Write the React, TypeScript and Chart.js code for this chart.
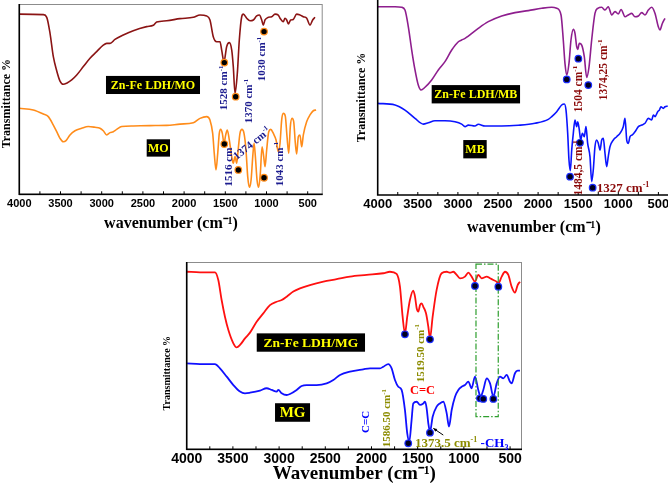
import React, { useEffect, useRef } from 'react';
import { Chart, registerables } from 'chart.js';

Chart.register(...registerables);

// ---------- axis ticks ----------
const X_TICKS = [4000, 3500, 3000, 2500, 2000, 1500, 1000, 500];
const X_TICK_LABELS = ['4000', '3500', '3000', '2500', '2000', '1500', '1000', '500'];

// ---------- Panel 1 : Zn-Fe LDH/MO and MO ----------
const ldhMoX = [4000, 3709, 3667, 3627, 3587, 3546, 3506, 3466, 3425, 3364, 3303, 3223, 3142, 3061, 2981, 2939, 2899, 2839, 2738, 2617, 2454, 2374, 2333, 2211, 2050, 1888, 1807, 1726, 1686, 1646, 1605, 1564, 1544, 1516, 1483, 1451, 1422, 1403, 1382, 1354, 1330, 1301, 1281, 1240, 1200, 1160, 1119, 1087, 1058, 1039, 1018, 978, 937, 897, 857, 836, 796, 776, 755, 735, 707, 675, 634, 594, 553, 512, 472, 440, 411];
const ldhMoY = [94.7, 94.4, 93.0, 84.6, 72.3, 64.9, 59.5, 57.8, 58.4, 60.1, 62.7, 67.1, 71.5, 75.0, 78.4, 79.3, 79.3, 81.4, 83.7, 86.0, 88.1, 88.8, 90.5, 91.2, 92.3, 93.0, 94.2, 93.7, 91.6, 82.8, 80.2, 80.2, 75.8, 69.7, 77.7, 79.7, 75.8, 67.1, 53.0, 63.6, 81.1, 93.3, 94.7, 92.5, 91.2, 91.6, 93.7, 94.2, 91.6, 88.9, 91.6, 93.0, 93.3, 94.7, 94.2, 92.5, 90.7, 92.5, 91.6, 89.5, 91.6, 91.9, 94.7, 94.2, 93.3, 92.5, 88.9, 91.6, 93.0];
const moX = [4000, 3830, 3709, 3648, 3587, 3546, 3506, 3466, 3433, 3385, 3324, 3243, 3163, 3081, 3021, 2981, 2939, 2899, 2859, 2818, 2757, 2617, 2414, 2211, 2050, 1888, 1807, 1726, 1686, 1653, 1634, 1613, 1592, 1573, 1556, 1536, 1516, 1495, 1476, 1451, 1422, 1403, 1382, 1362, 1342, 1322, 1298, 1273, 1249, 1228, 1208, 1187, 1167, 1151, 1135, 1115, 1095, 1075, 1054, 1034, 1018, 998, 973, 949, 917, 884, 857, 836, 816, 796, 772, 751, 730, 711, 690, 670, 650, 634, 614, 594, 573, 553, 512, 472, 432, 398];
const moY = [45.2, 44.3, 42.2, 40.8, 36.4, 32.9, 29.4, 27.6, 28.2, 31.2, 33.4, 34.7, 35.6, 35.2, 34.7, 33.4, 31.2, 32.4, 32.9, 34.1, 35.6, 35.9, 36.1, 36.2, 36.9, 37.6, 39.9, 40.8, 39.0, 32.0, 21.5, 12.8, 21.5, 32.0, 34.1, 32.0, 26.8, 31.2, 33.8, 28.5, 19.8, 16.3, 19.8, 16.3, 24.2, 32.0, 34.1, 32.0, 23.3, 9.3, 3.7, 7.6, 19.8, 26.8, 19.8, 7.6, 3.7, 11.0, 25.0, 19.8, 14.5, 23.3, 32.9, 34.1, 32.0, 28.5, 22.4, 26.8, 39.0, 42.5, 41.1, 30.3, 21.5, 35.6, 39.9, 38.2, 26.8, 21.2, 30.3, 31.2, 25.0, 31.2, 38.2, 41.7, 43.9, 44.3];

// ---------- Panel 2 : Zn-Fe LDH/MB and MB ----------
const ldhMbX = [4000, 3784, 3701, 3660, 3618, 3576, 3535, 3494, 3460, 3410, 3327, 3244, 3161, 3077, 2994, 2953, 2911, 2870, 2746, 2621, 2454, 2288, 2122, 1955, 1830, 1768, 1714, 1686, 1665, 1643, 1615, 1590, 1561, 1540, 1519, 1506, 1486, 1456, 1424, 1394, 1365, 1332, 1291, 1256, 1207, 1166, 1125, 1082, 1041, 1000, 966, 916, 875, 833, 792, 750, 708, 667, 626, 584, 542, 501, 480, 451, 418];
const ldhMbY = [95.6, 95.6, 95.3, 93.9, 85.4, 73.6, 63.5, 55.8, 53.3, 54.7, 58.4, 63.5, 67.7, 73.6, 77.8, 78.7, 79.5, 80.7, 84.6, 88.0, 90.9, 92.6, 93.6, 94.8, 95.3, 94.8, 91.4, 78.7, 66.8, 60.9, 66.8, 78.7, 84.1, 82.1, 75.3, 73.9, 77.0, 76.1, 70.2, 59.7, 65.1, 78.7, 92.2, 94.8, 95.3, 93.9, 95.6, 91.4, 93.1, 91.9, 94.2, 90.5, 91.4, 92.2, 90.5, 90.9, 92.6, 91.4, 93.9, 95.3, 92.2, 85.4, 83.8, 87.1, 89.7];
const mbX = [4000, 3784, 3660, 3535, 3431, 3369, 3286, 3161, 3036, 2953, 2911, 2870, 2787, 2746, 2662, 2454, 2247, 2039, 1873, 1830, 1768, 1706, 1673, 1652, 1631, 1615, 1598, 1581, 1561, 1540, 1519, 1506, 1486, 1469, 1448, 1424, 1403, 1382, 1353, 1332, 1312, 1291, 1269, 1249, 1228, 1207, 1187, 1166, 1145, 1125, 1104, 1062, 1020, 979, 938, 916, 895, 875, 854, 825, 792, 750, 708, 667, 626, 584, 563, 542, 509, 488, 468, 439, 418, 384];
const mbY = [46.5, 45.7, 43.1, 38.9, 36.0, 36.7, 37.7, 37.7, 37.2, 36.0, 34.7, 35.5, 35.0, 35.9, 35.0, 35.0, 35.4, 36.4, 38.4, 39.8, 42.3, 45.7, 46.2, 43.1, 31.3, 17.8, 12.4, 22.8, 31.3, 38.1, 34.7, 37.2, 33.0, 27.9, 31.3, 29.6, 34.7, 26.2, 19.5, 6.8, 12.7, 24.5, 27.9, 26.2, 22.8, 27.9, 28.8, 21.2, 14.4, 19.5, 24.5, 27.9, 29.6, 31.3, 34.7, 38.9, 27.9, 26.2, 29.6, 30.5, 32.1, 34.7, 35.5, 36.4, 38.9, 38.1, 40.6, 39.8, 42.3, 43.1, 44.8, 44.0, 44.8, 45.2];

// ---------- Panel 3 : Zn-Fe LDH/MG and MG ----------
const ldhMgX = [4000, 3856, 3694, 3658, 3622, 3586, 3549, 3495, 3459, 3423, 3369, 3315, 3243, 3171, 3099, 3026, 2972, 2918, 2846, 2774, 2666, 2521, 2377, 2233, 2052, 1872, 1800, 1728, 1692, 1663, 1638, 1613, 1584, 1548, 1529, 1511, 1493, 1475, 1457, 1439, 1410, 1385, 1367, 1338, 1295, 1241, 1186, 1150, 1114, 1078, 1042, 988, 952, 916, 880, 844, 808, 753, 717, 681, 645, 627, 591, 555, 519, 483, 447, 418, 393];
const ldhMgY = [94.8, 94.5, 94.5, 90.4, 79.7, 70.8, 63.7, 56.6, 54.4, 55.7, 59.2, 62.3, 68.1, 72.6, 77.0, 78.8, 79.7, 81.5, 84.2, 85.9, 87.7, 89.5, 90.8, 92.2, 93.1, 94.0, 94.8, 93.6, 86.8, 70.8, 61.9, 70.8, 79.7, 84.7, 81.5, 75.3, 73.5, 77.0, 77.9, 76.1, 72.6, 65.5, 59.2, 70.8, 85.1, 94.0, 94.8, 94.3, 94.8, 93.1, 91.3, 92.2, 94.3, 92.2, 89.5, 93.1, 91.3, 92.2, 91.3, 90.4, 89.5, 88.6, 92.2, 94.8, 93.1, 86.8, 83.6, 87.7, 89.5];
const mgX = [4000, 3856, 3694, 3640, 3567, 3495, 3423, 3369, 3315, 3207, 3135, 3080, 3026, 3008, 2972, 2918, 2882, 2810, 2756, 2702, 2594, 2485, 2413, 2341, 2233, 2089, 2016, 1908, 1872, 1818, 1782, 1746, 1710, 1674, 1638, 1613, 1591, 1566, 1548, 1511, 1475, 1439, 1421, 1403, 1385, 1367, 1338, 1295, 1259, 1222, 1186, 1161, 1132, 1096, 1060, 1024, 988, 952, 916, 880, 844, 819, 790, 753, 717, 681, 645, 609, 573, 537, 501, 483, 447, 418, 393];
const mgY = [45.9, 45.5, 45.5, 43.2, 38.8, 34.3, 30.8, 29.9, 30.2, 31.3, 32.6, 31.7, 30.8, 31.7, 29.9, 29.0, 29.5, 31.7, 33.8, 34.3, 34.3, 35.2, 37.0, 39.7, 41.5, 42.7, 43.2, 43.2, 44.1, 45.5, 43.2, 37.0, 33.4, 31.7, 21.0, 8.5, 4.1, 15.6, 24.5, 25.4, 23.7, 24.5, 25.4, 21.9, 13.9, 9.4, 17.4, 22.8, 24.5, 25.4, 19.2, 12.1, 21.0, 28.1, 31.7, 33.4, 34.3, 36.1, 32.6, 38.8, 31.7, 28.1, 31.7, 37.9, 35.2, 28.1, 35.2, 38.8, 37.9, 39.7, 36.1, 35.2, 40.6, 42.0, 42.0];

// ---------- annotations (data coordinates: wavenumber, transmittance) ----------
const P1_DOTS = [[1512, 69.2], [1374, 51.3], [1030, 85.5], [1512, 26.4], [1342, 12.8], [1030, 8.7]];
const P2_DOTS = [[1643, 58.7], [1498, 69.2], [1374, 55.8], [1602, 9.3], [1478, 26.5], [1320, 3.7]];
const P3_DOTS = [[1638, 61.4], [1367, 58.7], [880, 87.2], [627, 86.8], [1602, 3.2], [1367, 8.9], [826, 27.2], [790, 26.9], [681, 26.9]];

const P1_BOXES = [
  { x1: 2948, x2: 1807, y1: 62.2, y2: 52.7, text: 'Zn-Fe LDH/MO', size: 12 },
  { x1: 2454, x2: 2171, y1: 28.9, y2: 19.8, text: 'MO', size: 12 },
];
const P2_BOXES = [
  { x1: 3327, x2: 2225, y1: 55.8, y2: 46.5, text: 'Zn-Fe LDH/MB', size: 12 },
  { x1: 2933, x2: 2641, y1: 27.9, y2: 18.6, text: 'MB', size: 12 },
];
const P3_BOXES = [
  { x1: 3242, x2: 2070, y1: 61.9, y2: 52.1, text: 'Zn-Fe LDH/MG', size: 13.5 },
  { x1: 3044, x2: 2665, y1: 24.6, y2: 14.7, text: 'MG', size: 15 },
];

const NAVY = '#1c1c8f';
const DARKRED = '#8b0a0a';
const OLIVE = '#8c8c00';

const P1_LABELS = [
  { x: 1522, y: 55.9, segs: [{ t: '1528 cm' }, { t: '-1', s: 'sup' }], size: 11, color: NAVY, rot: -90 },
  { x: 1221, y: 49.0, segs: [{ t: '1370 cm' }, { t: '-1', s: 'sup' }], size: 11, color: NAVY, rot: -90 },
  { x: 1058, y: 71.1, segs: [{ t: '1030 cm' }, { t: '-1', s: 'sup' }], size: 11, color: NAVY, rot: -90 },
  { x: 1464, y: 14.3, segs: [{ t: '1516 cm' }], size: 11, color: NAVY, rot: -90 },
  { x: 1180, y: 26.8, segs: [{ t: '1374 cm' }, { t: '-1', s: 'sup' }], size: 11, color: NAVY, rot: -39 },
  { x: 848, y: 15.9, segs: [{ t: '1043 cm' }, { t: '-1', s: 'sup' }], size: 11, color: NAVY, rot: -90 },
];
const P2_LABELS = [
  { x: 1499, y: 53.8, segs: [{ t: '1504 cm' }, { t: '-1', s: 'sup' }], size: 11.5, color: DARKRED, rot: -90 },
  { x: 1187, y: 63.5, segs: [{ t: '1374,25 cm' }, { t: '-1', s: 'sup' }], size: 11.5, color: DARKRED, rot: -90 },
  { x: 1499, y: 13.7, segs: [{ t: '1484,5 cm' }, { t: '-1', s: 'sup' }], size: 11.5, color: DARKRED, rot: -90 },
  { x: 1268, y: 3.7, segs: [{ t: '1327 cm' }, { t: '-1', s: 'sup' }], size: 13, color: DARKRED, rot: 0, align: 'left' },
];
const P3_LABELS = [
  { x: 1475, y: 51.3, segs: [{ t: '1519.50 cm' }, { t: '-1', s: 'sup' }], size: 11, color: OLIVE, rot: -90 },
  { x: 1448, y: 31.7, segs: [{ t: 'C=C' }], size: 12.5, color: '#ff0000', rot: 0 },
  { x: 1835, y: 16.6, segs: [{ t: '1586.50 cm' }, { t: '-1', s: 'sup' }], size: 11, color: OLIVE, rot: -90 },
  { x: 2070, y: 14.6, segs: [{ t: 'C=C' }], size: 11, color: '#0000ff', rot: -90 },
  { x: 1529, y: 3.5, segs: [{ t: '1373.5 cm' }, { t: '-1', s: 'sup' }, { t: ' -CH', c: '#0000ff' }, { t: '3', s: 'sub', c: '#0000ff' }], size: 13, color: OLIVE, rot: 0, align: 'left' },
];
const P3_FRAME = { x1: 869, x2: 628, y1: 98.9, y2: 17.4 };
const P3_ARROW = { x1: 1223, y1: 7.6, x2: 1331, y2: 11.2 };

const SERIF = '"Liberation Serif", "Times New Roman", serif';
const SANS = '"Liberation Sans", Arial, sans-serif';

function richText(ctx: any, segs: any[], x: number, y: number, size: number, color: string, rotDeg: number, align: string) {
  ctx.save();
  ctx.translate(x, y);
  if (rotDeg) ctx.rotate((rotDeg * Math.PI) / 180);
  const fontOf = (s: any) => `bold ${s.s ? size * 0.62 : size}px ${SERIF}`;
  let w = 0;
  for (const s of segs) {
    ctx.font = fontOf(s);
    w += ctx.measureText(s.t).width;
  }
  let cx = align === 'left' ? 0 : -w / 2;
  ctx.textBaseline = 'alphabetic';
  ctx.textAlign = 'left';
  const base = size * 0.33;
  for (const s of segs) {
    ctx.font = fontOf(s);
    ctx.fillStyle = s.c || color;
    const dy = s.s === 'sup' ? -size * 0.4 : s.s === 'sub' ? size * 0.22 : 0;
    ctx.fillText(s.t, cx, base + dy);
    cx += ctx.measureText(s.t).width;
  }
  ctx.restore();
}

function makeDecor(cfg: any) {
  return {
    id: 'decor',
    afterDatasetsDraw(chart: any) {
      const { ctx, chartArea: a } = chart;
      const sx = chart.scales.x;
      const sy = chart.scales.y;
      const X = (v: number) => sx.getPixelForValue(v);
      const Y = (v: number) => sy.getPixelForValue(v);
      ctx.save();
      // frame
      if (cfg.fullBox) {
        ctx.strokeStyle = '#8c8c8c';
        ctx.lineWidth = 1;
        ctx.strokeRect(a.left, a.top + 0.5, a.right - a.left - 0.5, a.bottom - a.top);
      }
      ctx.strokeStyle = '#000';
      ctx.lineWidth = 1.6;
      ctx.beginPath();
      ctx.moveTo(a.left, a.top);
      ctx.lineTo(a.left, a.bottom);
      ctx.lineTo(a.right, a.bottom);
      ctx.stroke();
      // minor ticks every 250 cm-1, inside
      ctx.lineWidth = 1;
      for (let v = 3750; v >= cfg.xMin; v -= 250) {
        const p = X(v);
        if (p > a.left + 1 && p < a.right - 1) {
          ctx.beginPath();
          ctx.moveTo(p, a.bottom);
          ctx.lineTo(p, a.bottom - 3);
          ctx.stroke();
        }
      }
      // label boxes
      for (const b of cfg.boxes) {
        const x1 = X(b.x1), x2 = X(b.x2), y1 = Y(b.y1), y2 = Y(b.y2);
        ctx.fillStyle = '#000';
        ctx.fillRect(x1, y1, x2 - x1, y2 - y1);
        ctx.fillStyle = '#ffff00';
        ctx.font = `bold ${b.size}px ${SERIF}`;
        ctx.textAlign = 'center';
        ctx.textBaseline = 'middle';
        ctx.fillText(b.text, (x1 + x2) / 2, (y1 + y2) / 2 + 1);
      }
      if (cfg.extra) cfg.extra(ctx, X, Y);
      // dots
      for (const d of cfg.dots) {
        ctx.beginPath();
        ctx.arc(X(d[0]), Y(d[1]), 3.3, 0, Math.PI * 2);
        ctx.fillStyle = cfg.dotFill;
        ctx.fill();
        ctx.lineWidth = 1.2;
        ctx.strokeStyle = cfg.dotStroke;
        ctx.stroke();
      }
      // labels
      for (const l of cfg.labels) {
        richText(ctx, l.segs, X(l.x), Y(l.y), l.size, l.color, l.rot || 0, l.align || 'center');
      }
      ctx.restore();
    },
  };
}

const P1 = {
  left: 0, top: 0, width: 335, height: 240,
  pad: { left: 0, top: 4, right: 12.3, bottom: 0 },
  yAxisW: 19.3, xAxisH: 45.7, xMin: 318, yMax: 100,
  series: [
    { x: ldhMoX, y: ldhMoY, color: '#8b1414', width: 1.6 },
    { x: moX, y: moY, color: '#ff8c1a', width: 1.6 },
  ],
  tickSize: 11, tickPad: 3.4,
  xTitle: 'wavenumber (cm⁻¹)', xTitleSize: 16, xTitlePad: 6.4,
  yTitle: 'Transmittance %   ', yTitleSize: 12, yTitlePad: 0,
  fullBox: true,
  dots: P1_DOTS, dotFill: '#000', dotStroke: '#ff8c1a',
  labels: P1_LABELS, boxes: P1_BOXES,
};

const P2 = {
  left: 354, top: 0, width: 336, height: 240,
  pad: { left: 0, top: 0, right: 0, bottom: 0 },
  yAxisW: 23.7, xAxisH: 45, xMin: 106, yMax: 99,
  series: [
    { x: ldhMbX, y: ldhMbY, color: '#8e1e8e', width: 1.6 },
    { x: mbX, y: mbY, color: '#0a14ff', width: 1.6 },
  ],
  tickSize: 13, tickPad: 1.5,
  xTitle: 'wavenumber (cm⁻¹)', xTitleSize: 16, xTitlePad: 2.4,
  yTitle: 'Transmittance %', yTitleSize: 12, yTitlePad: 0.5,
  fullBox: false,
  dots: P2_DOTS, dotFill: '#000020', dotStroke: '#1a2cff',
  labels: P2_LABELS, boxes: P2_BOXES,
};

const P3 = {
  left: 160, top: 255, width: 380, height: 239,
  pad: { left: 0, top: 7, right: 18, bottom: 0 },
  yAxisW: 26.7, xAxisH: 44.7, xMin: 371, yMax: 100,
  series: [
    { x: ldhMgX, y: ldhMgY, color: '#ff1010', width: 1.8 },
    { x: mgX, y: mgY, color: '#1010ff', width: 1.8 },
  ],
  tickSize: 14, tickPad: 1.6,
  xTitle: 'Wavenumber (cm⁻¹)', xTitleSize: 19, xTitlePad: 8.5,
  yTitle: 'Transmittance %              ', yTitleSize: 10, yTitlePad: 1,
  fullBox: true,
  dots: P3_DOTS, dotFill: '#000020', dotStroke: '#1a2cff',
  labels: P3_LABELS, boxes: P3_BOXES,
  extra: (ctx: any, X: any, Y: any) => {
    // green dash-dot frame
    ctx.save();
    ctx.strokeStyle = '#2e9e2e';
    ctx.lineWidth = 1.2;
    ctx.setLineDash([6, 2, 1.5, 2]);
    const x1 = X(P3_FRAME.x1), x2 = X(P3_FRAME.x2), y1 = Y(P3_FRAME.y1), y2 = Y(P3_FRAME.y2);
    ctx.strokeRect(x1, y1, x2 - x1, y2 - y1);
    ctx.restore();
    // arrow
    const ax1 = X(P3_ARROW.x1), ay1 = Y(P3_ARROW.y1), ax2 = X(P3_ARROW.x2), ay2 = Y(P3_ARROW.y2);
    ctx.save();
    ctx.strokeStyle = '#000';
    ctx.fillStyle = '#000';
    ctx.lineWidth = 1;
    ctx.beginPath();
    ctx.moveTo(ax1, ay1);
    ctx.lineTo(ax2, ay2);
    ctx.stroke();
    const ang = Math.atan2(ay2 - ay1, ax2 - ax1);
    ctx.beginPath();
    ctx.moveTo(ax2, ay2);
    ctx.lineTo(ax2 - 4 * Math.cos(ang - 0.45), ay2 - 4 * Math.sin(ang - 0.45));
    ctx.lineTo(ax2 - 4 * Math.cos(ang + 0.45), ay2 - 4 * Math.sin(ang + 0.45));
    ctx.closePath();
    ctx.fill();
    ctx.restore();
  },
};

function Panel({ cfg }: { cfg: any }) {
  const ref = useRef<HTMLCanvasElement>(null);
  useEffect(() => {
    const chart = new Chart(ref.current as HTMLCanvasElement, {
      type: 'line',
      data: {
        datasets: cfg.series.map((s: any) => ({
          data: s.x.map((x: number, i: number) => ({ x, y: s.y[i] })),
          borderColor: s.color,
          borderWidth: s.width,
          pointRadius: 0,
          cubicInterpolationMode: 'monotone',
          fill: false,
        })),
      },
      options: {
        responsive: false,
        animation: false,
        events: [],
        layout: { padding: cfg.pad },
        plugins: { legend: { display: false }, tooltip: { enabled: false } },
        scales: {
          x: {
            type: 'linear',
            reverse: true,
            min: cfg.xMin,
            max: 4000,
            afterBuildTicks: (s: any) => {
              s.ticks = X_TICKS.map((v) => ({ value: v }));
            },
            afterFit: (s: any) => {
              s.height = cfg.xAxisH;
            },
            grid: { display: false, drawTicks: false },
            border: { display: false },
            ticks: {
              autoSkip: false,
              maxRotation: 0,
              padding: cfg.tickPad,
              color: '#000',
              font: { family: SANS, weight: 'bold', size: cfg.tickSize },
              callback: (v: any) => {
                const i = X_TICKS.indexOf(Number(v));
                return i >= 0 ? X_TICK_LABELS[i] : '';
              },
            },
            title: {
              display: true,
              text: cfg.xTitle,
              color: '#000',
              font: { family: SERIF, weight: 'bold', size: cfg.xTitleSize },
              padding: { top: 0, bottom: cfg.xTitlePad },
            },
          },
          y: {
            type: 'linear',
            min: 0,
            max: cfg.yMax,
            afterFit: (s: any) => {
              s.width = cfg.yAxisW;
            },
            grid: { display: false, drawTicks: false },
            border: { display: false },
            ticks: { display: false },
            title: {
              display: true,
              text: cfg.yTitle,
              color: '#000',
              font: { family: SERIF, weight: 'bold', size: cfg.yTitleSize },
              padding: { top: cfg.yTitlePad, bottom: 0 },
            },
          },
        },
      } as any,
      plugins: [makeDecor(cfg)],
    });
    return () => chart.destroy();
  }, []);
  return (
    <canvas
      ref={ref}
      width={cfg.width}
      height={cfg.height}
      style={{ position: 'absolute', left: cfg.left, top: cfg.top }}
    />
  );
}

export default function App() {
  return (
    <div
      style={{
        position: 'absolute',
        left: 0,
        top: 0,
        width: 668,
        height: 494,
        overflow: 'hidden',
        background: '#fff',
      }}
    >
      <Panel cfg={P1} />
      <Panel cfg={P2} />
      <Panel cfg={P3} />
    </div>
  );
}
